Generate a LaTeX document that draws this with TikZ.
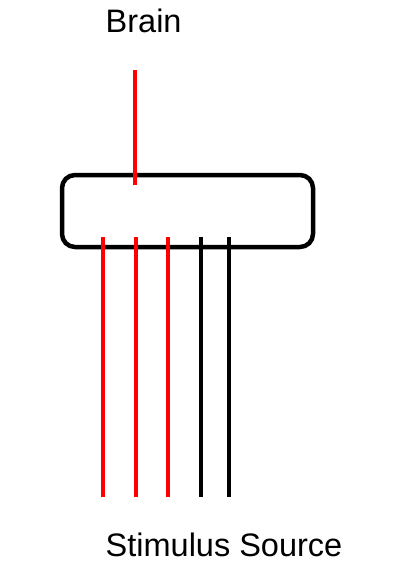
\documentclass[tikz,border=0pt]{standalone}
\usepackage{fontspec}
\setmainfont{Liberation Sans}
\begin{document}
\begin{tikzpicture}[x=1pt,y=-1pt,
  lbl/.style={font=\fontsize{32.5}{38}\selectfont, inner sep=0pt, anchor=base west},
  boxshape/.style={draw=black, line width=4.5pt, rounded corners=13pt, minimum width=251pt, minimum height=72pt, inner sep=0pt},
  redwire/.style={draw=red, line width=4pt},
  blackwire/.style={draw=black, line width=4pt}]
\useasboundingbox (0,0) rectangle (419,570);
\node[lbl] (brain) at (105.5,32) {Brain};
\node[lbl] (stim) at (105.5,556) {Stimulus Source};
\node[boxshape] (box) at (187.5,211) {};
\coordinate (t1) at (135,70);
\coordinate (t2) at (135,185);
\foreach \n/\x in {1/103,2/136,3/168,4/201,5/229}{
  \coordinate (a\n) at (\x,237);
  \coordinate (b\n) at (\x,497);
}
\draw[redwire] (t1) -- (t2);
\draw[redwire] (a1) -- (b1);
\draw[redwire] (a2) -- (b2);
\draw[redwire] (a3) -- (b3);
\draw[blackwire] (a4) -- (b4);
\draw[blackwire] (a5) -- (b5);
\end{tikzpicture}
\end{document}
